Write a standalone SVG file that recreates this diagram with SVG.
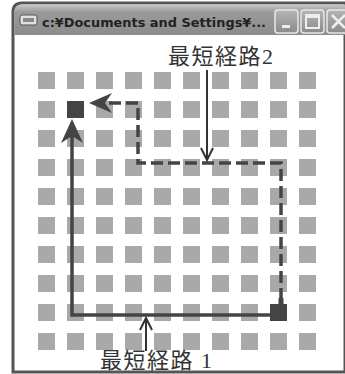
<svg xmlns="http://www.w3.org/2000/svg" width="345" height="374" viewBox="0 0 345 374">
<defs>
<linearGradient id="tb" x1="0" y1="0" x2="0" y2="1">
<stop offset="0" stop-color="#c8c8c8"/>
<stop offset="0.25" stop-color="#9a9a9a"/>
<stop offset="1" stop-color="#8c8c8c"/>
</linearGradient>
<linearGradient id="btn" x1="0" y1="0" x2="0" y2="1">
<stop offset="0" stop-color="#b5b5b5"/>
<stop offset="1" stop-color="#8a8a8a"/>
</linearGradient>
<pattern id="grid" x="38" y="72" width="29" height="29" patternUnits="userSpaceOnUse">
<rect x="0" y="0" width="17" height="17" fill="#a9a9a9"/>
</pattern>
</defs>
<style>
.lbl{font-family:"Liberation Serif","Noto Sans CJK JP",serif;font-size:22px;fill:#333;letter-spacing:1.5px}
.sq{fill:#444}
.path1{fill:none;stroke:#444;stroke-width:3.5}
.path2{fill:none;stroke:#444;stroke-width:3.5;stroke-dasharray:12 5}
.ptr{fill:none;stroke:#333;stroke-width:2}
.head{fill:#444}
.bt{fill:url(#btn);stroke:#e8e8e8;stroke-width:1.5}
</style>
<rect width="345" height="374" fill="#fff"/>
<g id="window">
<path d="M13,372 V12 Q13,3 22,3 H345 V372 Z" fill="#fff" stroke="#555" stroke-width="3"/>
<path d="M14.5,35 V12 Q14.5,4.5 22,4.5 H345 V35 Z" fill="url(#tb)"/>
<rect x="20" y="15" width="17" height="10" rx="2" fill="#e0e0e0" stroke="#555" stroke-width="1"/>
<rect x="23" y="18" width="11" height="4" fill="#888"/>
<text x="42" y="27" font-family="'DejaVu Sans', sans-serif" font-weight="bold" font-size="12.5px" fill="#222" textLength="224" lengthAdjust="spacingAndGlyphs">c:¥Documents and Settings¥...</text>
<rect class="bt" x="275" y="10" width="23" height="23" rx="3"/>
<rect x="282" y="25" width="8" height="3" fill="#eee"/>
<rect class="bt" x="301" y="10" width="23" height="23" rx="3"/>
<rect x="306" y="15" width="13" height="13" fill="none" stroke="#eee" stroke-width="2"/>
<rect x="306" y="15" width="13" height="3" fill="#eee"/>
<rect class="bt" x="327" y="10" width="23" height="23" rx="3"/>
<path d="M332,15 L345,28 M345,15 L332,28" stroke="#eee" stroke-width="2.5"/>
</g>
<g id="grid-squares">
<rect x="38" y="72" width="278" height="278" fill="url(#grid)"/>
</g>
<g id="start">
<rect class="sq" x="270" y="304" width="17" height="17"/>
</g>
<g id="goal">
<rect class="sq" x="67" y="101" width="17" height="17"/>
</g>
<g id="connectors">
<polyline class="path1" points="278,315 72,315 72,136"/>
<path class="head" d="M72,119 L83,143 L72,136 L61,143 Z"/>
<polyline class="path2" points="281,300 281,163 138,163 138,103 104,103"/>
<rect x="278.5" y="298" width="5" height="8" fill="#444"/>
<path class="head" d="M89,103 L112,93 L105,103 L112,113 Z"/>
<line class="ptr" x1="207" y1="70" x2="207" y2="160"/>
<polyline class="ptr" points="201,148 207,160 213,148"/>
<line class="ptr" x1="146" y1="351" x2="146" y2="318"/>
<polyline class="ptr" points="140,330 146,318 152,330"/>
</g>
<g id="label2">
<text class="lbl" x="168" y="64">最短経路2</text>
</g>
<g id="label1">
<text class="lbl" x="100" y="368">最短経路 1</text>
</g>
</svg>
